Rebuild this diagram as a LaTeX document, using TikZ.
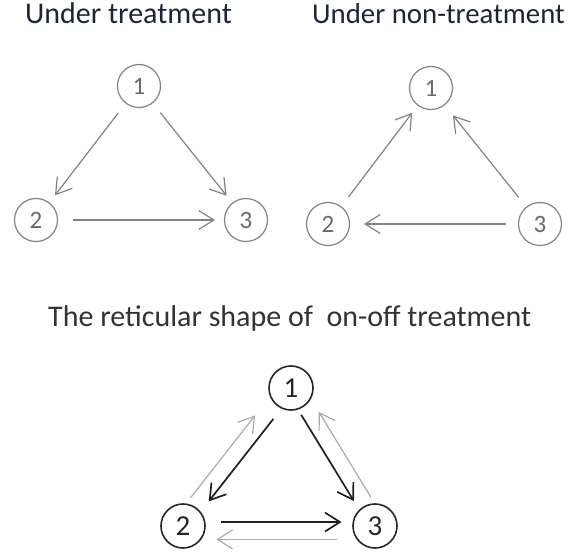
\documentclass[tikz,border=0pt]{standalone}
\usepackage{fontspec}
\setmainfont{Carlito}
\usetikzlibrary{arrows.meta}
\definecolor{titleblue}{RGB}{28,36,58}
\definecolor{numgray}{RGB}{100,106,122}
\definecolor{edgegray}{RGB}{130,130,130}
\definecolor{lightgray}{RGB}{170,170,170}
\begin{document}
\begin{tikzpicture}[x=1pt, y=-1pt,
    state/.style={circle, draw=edgegray, line width=1.2pt, minimum size=43pt, inner sep=0pt, text=numgray, font=\fontsize{25}{25}\selectfont},
    bstate/.style={circle, draw=black!85, line width=1.6pt, minimum size=44pt, inner sep=0pt, text=black!85, font=\fontsize{29}{29}\selectfont},
    title/.style={anchor=base west, inner sep=0pt, font=\fontsize{30}{30}\selectfont},
    gline/.style={draw=edgegray, line width=1.2pt, -{Straight Barb[length=15pt,width=19pt]}, shorten <=12pt, shorten >=9pt},
    kline/.style={draw=black!88, line width=1.7pt, -{Straight Barb[length=15pt,width=19pt]}},
    lline/.style={draw=lightgray, line width=1.2pt, -{Straight Barb[length=15pt,width=19pt]}}]

    \useasboundingbox (0,0) rectangle (571,556);

    % under treatment
    \node[title, text=titleblue] (t1) at (25,24) {Under treatment};
    \node[state] (a1) at (139,86) {1};
    \node[state] (a2) at (36,220) {2};
    \node[state] (a3) at (246,220) {3};
    \draw[gline] (a1) -- (a2);
    \draw[gline] (a1) -- (a3);
    \draw[gline, shorten <=15pt] (a2) -- (a3);

    % under non-treatment
    \node[title, text=titleblue, font=\fontsize{28.8}{29}\selectfont] (t2) at (312,24) {Under non-treatment};
    \node[state] (b1) at (431,88) {1};
    \node[state] (b2) at (328,224) {2};
    \node[state] (b3) at (540,224) {3};
    \draw[gline] (b2) -- (b1);
    \draw[gline, shorten >=13pt] (b3) -- (b1);
    \draw[gline, shorten >=14pt] (b3) -- (b2);

    % on-off
    \node[title, text=black!80] (t3) at (48,327) {The reticular shape of\ \ on-off treatment};
    \node[bstate] (c1) at (291,388) {1};
    \node[bstate] (c2) at (183,526) {2};
    \node[bstate] (c3) at (375,526) {3};
    \draw[kline, shorten <=13pt, shorten >=13pt] (c1.245) -- (c2.39);
    \draw[kline, shorten <=6pt, shorten >=10pt] (c1.288) -- (c3.134);
    \draw[kline, shorten <=16pt, shorten >=11pt] (c2.10) -- (c3.170);
    \draw[lline, shorten <=7pt, shorten >=24pt] (c2.82) -- (c1.202);
    \draw[lline, shorten <=7pt, shorten >=15pt] (c3.91) -- (c1.331);
    \draw[lline, shorten <=20pt, shorten >=15pt] (c3.216) -- (c2.324);
\end{tikzpicture}
\end{document}
